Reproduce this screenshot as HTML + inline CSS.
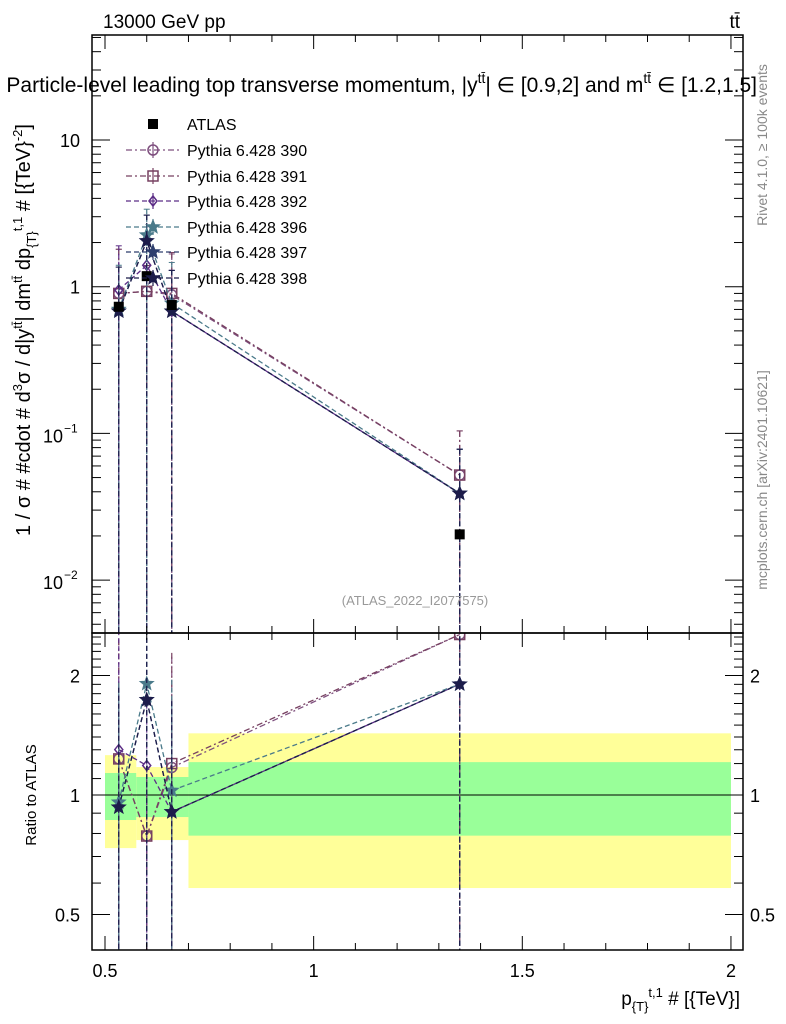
<!DOCTYPE html>
<html><head><meta charset="utf-8">
<style>
body{margin:0;background:#fff;}
svg{display:block;font-family:"Liberation Sans",sans-serif;}
</style></head>
<body>
<svg id="c" width="786" height="1024" viewBox="0 0 786 1024" xmlns="http://www.w3.org/2000/svg">
<defs>
<clipPath id="topclip"><rect x="92" y="35" width="651" height="598"/></clipPath>
<clipPath id="botclip"><rect x="92" y="633" width="651" height="317"/></clipPath>
</defs>
<g id="bands" clip-path="url(#botclip)"></g>
<g id="topmarks" clip-path="url(#topclip)"></g>
<g id="botmarks" clip-path="url(#botclip)"></g>
<g id="axes"></g>
<text x="103" y="28" font-size="19">13000 GeV pp</text>
<text x="740" y="28" font-size="19" text-anchor="end">tt̄</text>
<text x="757" y="92" font-size="21" text-anchor="end">Particle-level leading top transverse momentum, |y<tspan dy="-9" font-size="14">tt̄</tspan><tspan dy="9">| ∈ [0.9,2] and m</tspan><tspan dy="-9" font-size="14">tt̄</tspan><tspan dy="9"> ∈ [1.2,1.5]</tspan></text>
<text transform="translate(30,330) rotate(-90)" font-size="20" text-anchor="middle">1 / σ # #cdot # d<tspan dy="-8" font-size="13">3</tspan><tspan dy="8">σ / d|y</tspan><tspan dy="-8" font-size="13">tt̄</tspan><tspan dy="8">| dm</tspan><tspan dy="-8" font-size="13">tt̄</tspan><tspan dy="8"> dp</tspan><tspan dy="6" font-size="13">{T}</tspan><tspan dy="-14" font-size="13">t,1</tspan><tspan dy="8"> # [{TeV}</tspan><tspan dy="-8" font-size="13">-2</tspan><tspan dy="8">]</tspan></text>
<text transform="translate(36,795) rotate(-90)" font-size="15" text-anchor="middle">Ratio to ATLAS</text>
<text x="740" y="1005" font-size="19" text-anchor="end">p<tspan dy="6" font-size="13">{T}</tspan><tspan dy="-14" font-size="13">t,1</tspan><tspan dy="8"> # [{TeV}]</tspan></text>
<text transform="translate(767,145) rotate(-90)" font-size="14" fill="#888" text-anchor="middle">Rivet 4.1.0, ≥ 100k events</text>
<text transform="translate(767,480) rotate(-90)" font-size="14" fill="#888" text-anchor="middle">mcplots.cern.ch [arXiv:2401.10621]</text>
<text x="415" y="605" font-size="13" fill="#999" text-anchor="middle">(ATLAS_2022_I2077575)</text>
<g id="legend"></g>
</svg>
<script>
const xPts=[0.533,0.6,0.66,1.35];
const atlasVals=[0.73,1.18,0.75,0.0205];
const bandEdges=[0.5,0.575,0.7,2.0];
const bandYellowLo=[0.735,0.77,0.583];
const bandYellowHi=[1.26,1.176,1.43];
const bandGreenLo=[0.865,0.88,0.79];
const bandGreenHi=[1.136,1.11,1.21];
const seriesNames=["Pythia 6.428 390","Pythia 6.428 391","Pythia 6.428 392","Pythia 6.428 396","Pythia 6.428 397","Pythia 6.428 398"];
const s390=[0.9,0.93,0.88,0.052];
const s391=[0.9,0.93,0.9,0.052];
const s392=[0.95,1.4,0.68,0.039];
const s396=[0.7,2.25,0.77,0.039];
const s397=[0.68,2.05,0.68,0.039];
const s398=[0.68,2.05,0.68,0.039];
const errHiFactor=[2.0,1.5,1.9,2.0];
const xTicks=[0.5,1,1.5,2];
const xTickLabels=["0.5","1","1.5","2"];
const ratioTicks=[0.5,1,2];
const ratioTickLabels=["0.5","1","2"];

const NS="http://www.w3.org/2000/svg";
const L=92,R=743,T=35,M=633,B=950;
const X=v=>105+(v-0.5)*417.3;
const Y=v=>140-(Math.log10(v)-1)*146.7;
const YR=v=>795-Math.log10(v)*397;
function el(tag,attrs,parent){const e=document.createElementNS(NS,tag);for(const k in attrs)e.setAttribute(k,attrs[k]);parent.appendChild(e);return e;}
const ax=document.getElementById('axes'),tm=document.getElementById('topmarks'),bm=document.getElementById('botmarks'),bd=document.getElementById('bands'),lg=document.getElementById('legend');

for(let i=0;i<bandEdges.length-1;i++){
  const x1=X(bandEdges[i]),x2=X(bandEdges[i+1]);
  const y1=el('rect',{x:x1,y:YR(bandYellowHi[i]),width:x2-x1,height:YR(bandYellowLo[i])-YR(bandYellowHi[i]),fill:'#ffff99'},bd);
  
  
  const g1=el('rect',{x:x1,y:YR(bandGreenHi[i]),width:x2-x1,height:YR(bandGreenLo[i])-YR(bandGreenHi[i]),fill:'#99ff99'},bd);
  
  
}
const one=el('line',{x1:L,x2:R,y1:YR(1),y2:YR(1),stroke:'#000','stroke-width':1},bm);



const series=[s390,s391,s392,s396,s397,s398];
const colors=["#7e4f7e","#774060","#5c2d86","#4a7a8a","#2e3f6e","#1c1c4a"];
const dashes=["6,3,2,3","6,3,2,3","5,3","5,3","5,3","5,3"];
const markers=["circle","square","diamond","star","star","star"];
function marker(type,x,y,c,p){
  let m;
  if(type==='circle')m=el('circle',{cx:x,cy:y,r:5,fill:'none',stroke:c,'stroke-width':1.5},p);
  else if(type==='square')m=el('rect',{x:x-5,y:y-5,width:10,height:10,fill:'none',stroke:c,'stroke-width':1.5},p);
  else if(type==='diamond')m=el('polygon',{points:`${x},${y-5} ${x+4},${y} ${x},${y+5} ${x-4},${y}`,fill:'none',stroke:c,'stroke-width':1.5},p);
  else {let pts=[];for(let k=0;k<10;k++){const r=k%2?3:7,a=-Math.PI/2+k*Math.PI/5;pts.push((x+r*Math.cos(a)).toFixed(1)+','+(y+r*Math.sin(a)).toFixed(1));}
    m=el('polygon',{points:pts.join(' '),fill:c,stroke:c},p);}
  return m;
}
series.forEach((s,si)=>{
  const c=colors[si];
  const pl=el('polyline',{points:s.map((v,i)=>X(xPts[i])+','+Y(v)).join(' '),fill:'none',stroke:c,'stroke-width':1.3,'stroke-dasharray':dashes[si]},tm);
  
  
  const pr=el('polyline',{points:s.map((v,i)=>X(xPts[i])+','+YR(v/atlasVals[i])).join(' '),fill:'none',stroke:c,'stroke-width':1.3,'stroke-dasharray':dashes[si]},bm);
  
  
  s.forEach((v,i)=>{
    const x=X(xPts[i]);
    const eb=el('line',{x1:x,x2:x,y1:Y(v*errHiFactor[i]),y2:M+5,stroke:c,'stroke-width':1.2,'stroke-dasharray':dashes[si]},tm);
    
    
    el('line',{x1:x-3,x2:x+3,y1:Y(v*errHiFactor[i]),y2:Y(v*errHiFactor[i]),stroke:c},tm);
    const r=v/atlasVals[i];
    const ebr=el('line',{x1:x,x2:x,y1:YR(r*errHiFactor[i]),y2:B+5,stroke:c,'stroke-width':1.2,'stroke-dasharray':dashes[si]},bm);
    
    
    const m=marker(markers[si],x,Y(v),c,tm);
    
    
    const mr=marker(markers[si],x,YR(r),c,bm);
    
    
  });
});
atlasVals.forEach((v,i)=>{
  const r=el('rect',{x:X(xPts[i])-5,y:Y(v)-5,width:10,height:10,fill:'#000'},tm);
  
  
});

[[T,M],[M,B]].forEach(([a,b])=>el('rect',{x:L,y:a,width:R-L,height:b-a,fill:'none',stroke:'#000','stroke-width':1.5},ax));
for(let v=0.5;v<=2.0001;v+=0.1){
  const x=X(v),big=Math.abs(v*2-Math.round(v*2))<1e-6;const len=big?14:7;
  [[T,1],[M,-1],[M,1],[B,-1]].forEach(([y,d])=>el('line',{x1:x,x2:x,y1:y,y2:y+d*len,stroke:'#000'},ax));
}
xTicks.forEach((v,i)=>{const t=el('text',{x:X(v),y:977,'font-size':18,'text-anchor':'middle'},ax);t.textContent=xTickLabels[i];
  
  });
for(let d=-3;d<=1;d++)for(let k=1;k<=9;k++){const v=k*Math.pow(10,d),y=Y(v);if(y<T||y>M)continue;const len=k===1?18:9;
  el('line',{x1:L,x2:L+len,y1:y,y2:y,stroke:'#000'},ax);el('line',{x1:R,x2:R-len,y1:y,y2:y,stroke:'#000'},ax);}
[[10,"10"],[1,"1"]].forEach(([v,s])=>{const t=el('text',{x:80,y:Y(v)+7,'font-size':18,'text-anchor':'end'},ax);t.textContent=s;});
[[0.1,"−1"],[0.01,"−2"]].forEach(([v,s])=>{const t=el('text',{x:63,y:Y(v)+9,'font-size':18,'text-anchor':'end'},ax);t.textContent="10";
  const e=el('text',{x:64,y:Y(v)-1,'font-size':12},ax);e.textContent=s;});
for(let k=4;k<=25;k++){const v=k/10,y=YR(v);if(y<M||y>B)continue;const big=(v===0.5||v===1||v===2);const len=big?18:9;
  el('line',{x1:L,x2:L+len,y1:y,y2:y,stroke:'#000'},ax);el('line',{x1:R,x2:R-len,y1:y,y2:y,stroke:'#000'},ax);}
ratioTicks.forEach((v,i)=>{[[80,'end'],[750,'start']].forEach(([x,a])=>{const t=el('text',{x:x,y:YR(v)+7,'font-size':18,'text-anchor':a},ax);t.textContent=ratioTickLabels[i];
  
  });});

const ly=[124,150,176,201,227,252,278];
el('rect',{x:148,y:ly[0]-5,width:10,height:10,fill:'#000'},lg);
const at=el('text',{x:187,y:ly[0]+6,'font-size':16},lg);at.textContent="ATLAS";


seriesNames.forEach((n,i)=>{const y=ly[i+1],c=colors[i];
  el('line',{x1:126,x2:180,y1:y,y2:y,stroke:c,'stroke-width':1.3,'stroke-dasharray':dashes[i]},lg);
  el('line',{x1:153,x2:153,y1:y-8,y2:y+8,stroke:c,'stroke-width':1.2},lg);
  marker(markers[i],153,y,c,lg);
  const t=el('text',{x:187,y:y+6,'font-size':16},lg);t.textContent=n;
  
  });
</script>
</body></html>
